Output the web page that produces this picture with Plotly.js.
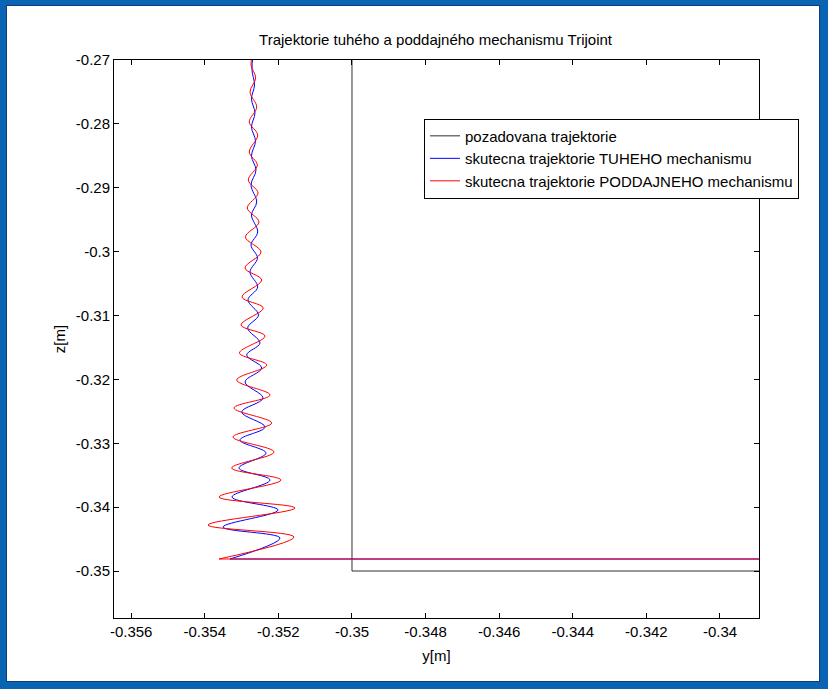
<!DOCTYPE html>
<html>
<head>
<meta charset="utf-8">
<script src="https://cdn.plot.ly/plotly-3.0.1.min.js"></script>
<style>
  html, body { margin: 0; padding: 0; background: #ffffff; }
  #wrap { position: relative; width: 828px; height: 689px; overflow: hidden; }
  #chart { position: absolute; left: 0; top: 0; width: 828px; height: 689px; }
  #frame { position: absolute; left: 0; top: 0; width: 828px; height: 689px; box-sizing: border-box;
           border-style: solid; border-color: #0a64b4; border-width: 5px 8px 7px 6px; pointer-events: none; }
  #frame2 { position: absolute; left: 6px; top: 5px; width: 814px; height: 677px; box-sizing: border-box;
            border: 1px solid #0b3f7a; pointer-events: none; }
</style>
</head>
<body>
<div id="wrap">
  <div id="chart"></div>
  <div id="frame"></div>
  <div id="frame2"></div>
</div>
<script>
// ---- data (metres) ----
const seriesNames = [
  'pozadovana trajektorie',
  'skutecna trajektorie TUHEHO mechanismu',
  'skutecna trajektorie PODDAJNEHO mechanismu'
];

// desired trajectory
const desiredY = [-0.35, -0.35, -0.338];
const desiredZ = [-0.265, -0.35, -0.35];

// rigid mechanism (blue) - oscillating descent
const rigidY = [-0.352690, -0.352717, -0.352649, -0.352731, -0.352636, -0.352731, -0.352622, -0.352731,
  -0.352608, -0.352744, -0.352589, -0.352731, -0.352562, -0.352744, -0.352568, -0.352771, -0.352562,
  -0.352826, -0.352541, -0.352834, -0.352500, -0.352861, -0.352454, -0.352907, -0.352418, -0.352997,
  -0.352364, -0.353043, -0.352337, -0.353071, -0.352228, -0.353261, -0.352011, -0.353505, -0.351957,
  -0.353315];
const rigidZ = [-0.269217, -0.271566, -0.273914, -0.276106, -0.278298, -0.280490, -0.282681, -0.285030,
  -0.287222, -0.289570, -0.292232, -0.294267, -0.296928, -0.298963, -0.300998, -0.303190, -0.305539,
  -0.307574, -0.309923, -0.311958, -0.314306, -0.316185, -0.318220, -0.320412, -0.322917, -0.325109,
  -0.327457, -0.329492, -0.331528, -0.333876, -0.335755, -0.338417, -0.340452, -0.343114, -0.344836,
  -0.348123];
// rigid - horizontal part
const rigidHY = [-0.353315, -0.338];
const rigidHZ = [-0.348123, -0.348123];

// compliant mechanism (red)
const compliantY = [-0.352704, -0.352744, -0.352617, -0.352771, -0.352589, -0.352790, -0.352562, -0.352790,
  -0.352573, -0.352818, -0.352554, -0.352845, -0.352527, -0.352894, -0.352473, -0.352907, -0.352454,
  -0.352989, -0.352410, -0.353016, -0.352364, -0.353057, -0.352318, -0.353133, -0.352228, -0.353206,
  -0.352182, -0.353234, -0.352120, -0.353269, -0.351929, -0.353614, -0.351549, -0.353913, -0.351576,
  -0.353614];
const compliantZ = [-0.269217, -0.270783, -0.272818, -0.275010, -0.277358, -0.279707, -0.281742, -0.284404,
  -0.286439, -0.288787, -0.290822, -0.293171, -0.295363, -0.297711, -0.300060, -0.302564, -0.304443,
  -0.307105, -0.308827, -0.311488, -0.313211, -0.315872, -0.317751, -0.320099, -0.322448, -0.324483,
  -0.326831, -0.329023, -0.331372, -0.333876, -0.335755, -0.338417, -0.340139, -0.342800, -0.344679,
  -0.348123];
const compliantHY = [-0.353614, -0.338];
const compliantHZ = [-0.348123, -0.348123];

// ticks
const xTickVals = [-0.356, -0.354, -0.352, -0.35, -0.348, -0.346, -0.344, -0.342, -0.34];
const xTickText = ['-0.356', '-0.354', '-0.352', '-0.35', '-0.348', '-0.346', '-0.344', '-0.342', '-0.34'];
const yTickVals = [-0.35, -0.34, -0.33, -0.32, -0.31, -0.3, -0.29, -0.28, -0.27];
const yTickText = ['-0.35', '-0.34', '-0.33', '-0.32', '-0.31', '-0.3', '-0.29', '-0.28', '-0.27'];

const FONT = 'Liberation Sans, Arial, sans-serif';
const FS = 15;

const traces = [
  { x: desiredY, y: desiredZ, mode: 'lines', name: seriesNames[0],
    line: { color: '#303030', width: 1 }, legendgroup: 'a' },
  { x: rigidY, y: rigidZ, mode: 'lines', name: seriesNames[1],
    line: { color: '#0000ff', width: 1, shape: 'spline', smoothing: 1 }, legendgroup: 'b' },
  { x: rigidHY, y: rigidHZ, mode: 'lines', showlegend: false,
    line: { color: '#0000ff', width: 1 }, legendgroup: 'b' },
  { x: compliantY, y: compliantZ, mode: 'lines', name: seriesNames[2],
    line: { color: '#ff0000', width: 1, shape: 'spline', smoothing: 1 }, legendgroup: 'c' },
  { x: compliantHY, y: compliantHZ, mode: 'lines', showlegend: false,
    line: { color: '#ff0000', width: 1 }, legendgroup: 'c' }
];

const layout = {
  width: 828, height: 689,
  paper_bgcolor: '#ffffff', plot_bgcolor: '#ffffff',
  margin: { l: 114, r: 69, t: 60, b: 71 },
  font: { family: FONT, size: FS, color: '#000' },
  showlegend: true,
  title: { text: 'Trajektorie tuhého a poddajného mechanismu Trijoint',
           font: { family: FONT, size: FS, color: '#000' },
           x: 0.526, xanchor: 'center', y: 0.942, yanchor: 'middle', yref: 'container' },
  xaxis: {
    range: [-0.356467, -0.33894], showgrid: false, zeroline: false,
    showline: true, linecolor: '#000', linewidth: 1, mirror: 'ticks',
    ticks: 'inside', ticklen: 5, tickcolor: '#000',
    tickvals: xTickVals, ticktext: xTickText,
    tickfont: { family: FONT, size: FS, color: '#000' },
    title: { text: 'y[m]', font: { family: FONT, size: FS, color: '#000' }, standoff: 11 }
  },
  yaxis: {
    range: [-0.357358, -0.27], showgrid: false, zeroline: false,
    showline: true, linecolor: '#000', linewidth: 1, mirror: 'ticks',
    ticks: 'inside', ticklen: 5, tickcolor: '#000',
    tickvals: yTickVals, ticktext: yTickText,
    tickfont: { family: FONT, size: FS, color: '#000' },
    title: { text: 'z[m]', font: { family: FONT, size: FS, color: '#000' }, standoff: 6 }
  },
  legend: {
    x: 0.4806, y: 0.895, xanchor: 'left', yanchor: 'top',
    bgcolor: '#ffffff', bordercolor: '#000', borderwidth: 1,
    font: { family: FONT, size: FS, color: '#000' },
    tracegroupgap: 0, itemwidth: 30
  }
};

Plotly.newPlot('chart', traces, layout, { displayModeBar: false, staticPlot: true });
</script>
</body>
</html>
